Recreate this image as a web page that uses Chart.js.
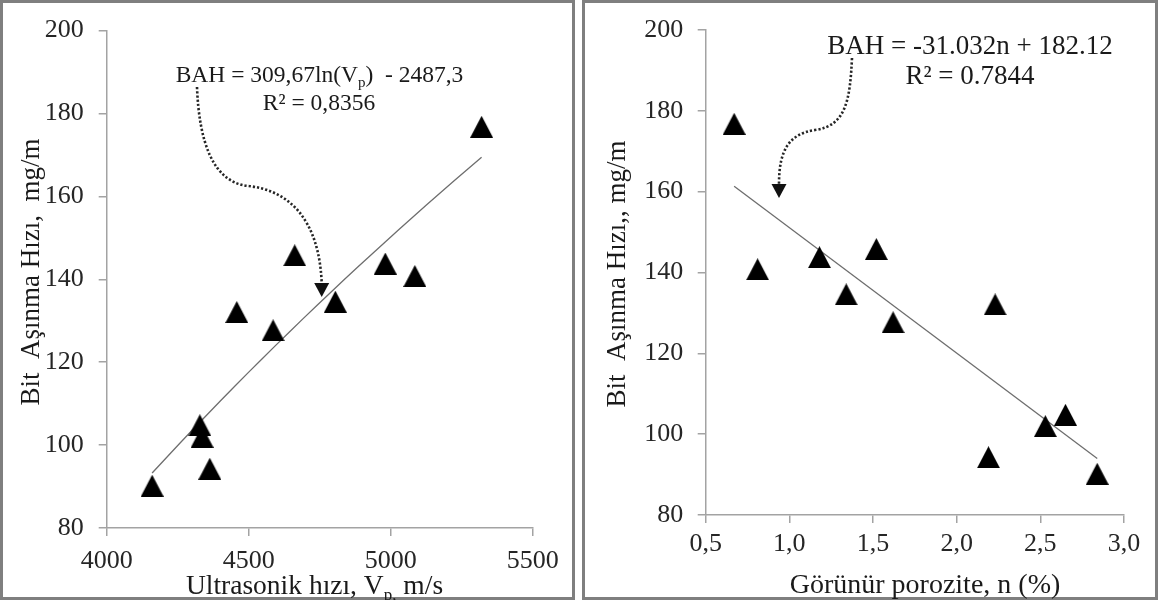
<!DOCTYPE html>
<html>
<head>
<meta charset="utf-8">
<script src="https://cdn.jsdelivr.net/npm/chart.js@4.4.1/dist/chart.umd.min.js"></script>
<style>
  html, body { margin: 0; padding: 0; background: #fff; width: 1159px; height: 612px; overflow: hidden; }
  .frame { position: absolute; top: 0; height: 600px; box-sizing: border-box; border: 3px solid #7f7f7f; background: #fff; }
  #f1 { left: 0; width: 575px; }
  #f2 { left: 582px; width: 576px; }
  canvas { position: absolute; top: 0; }
  #c1 { left: 0; }
  #c2 { left: 579px; }
</style>
</head>
<body>
<div class="frame" id="f1"></div>
<div class="frame" id="f2"></div>
<canvas id="c1" width="578" height="600"></canvas>
<canvas id="c2" width="580" height="600"></canvas>
<script>
// Bit wear rate (BAH, mg/m) measured on eleven samples
const bah = [90.2, 104.8, 102.0, 94.3, 132.1, 127.7, 145.8, 134.6, 143.8, 140.8, 176.8];
// Ultrasonic P-wave velocity of the same samples (m/s)
const vp = [4160, 4328, 4336, 4363, 4458, 4586, 4662, 4805, 4981, 5085, 5320];
// Apparent porosity of the same samples (%)
const porosity = [2.84, 2.65, 2.53, 2.19, 2.23, 1.62, 1.52, 1.34, 1.18, 0.81, 0.67];

// Axis ranges and tick labels
const vpTicks = [4000, 4500, 5000, 5500];
const porTicks = [0.5, 1.0, 1.5, 2.0, 2.5, 3.0];
const bahTicks = [80, 100, 120, 140, 160, 180, 200];

// Regression fits printed on the charts
const logFit = { a: 309.67, b: -2487.3, r2: '0,8356' };   // BAH = a ln(Vp) + b
const linFit = { m: -31.032, c: 182.12, r2: '0.7844' };   // BAH = m n + c

const SERIF = "'Liberation Serif', 'Times New Roman', serif";

// Solid black triangle marker (Excel style)
function triangleMarker(w, h) {
  const c = document.createElement('canvas');
  c.width = w; c.height = h;
  const g = c.getContext('2d');
  g.fillStyle = '#000';
  g.beginPath();
  g.moveTo(w / 2, 0);
  g.lineTo(w, h);
  g.lineTo(0, h);
  g.closePath();
  g.fill();
  return c;
}
const tri = triangleMarker(23, 22);

// Draw a run of text pieces (normal + subscript) centred on cx
function drawRuns(ctx, runs, cx, baseline, color) {
  ctx.save();
  ctx.fillStyle = color || '#1a1a1a';
  ctx.textBaseline = 'alphabetic';
  ctx.textAlign = 'left';
  let total = 0;
  runs.forEach(r => { ctx.font = r.size + 'px ' + SERIF; r.w = ctx.measureText(r.t).width; total += r.w; });
  let x = cx - total / 2;
  runs.forEach(r => {
    ctx.font = r.size + 'px ' + SERIF;
    ctx.fillText(r.t, x, baseline + (r.dy || 0));
    x += r.w;
  });
  ctx.restore();
}

function drawVertical(ctx, text, size, bx, cy) {
  ctx.save();
  ctx.translate(bx, cy);
  ctx.rotate(-Math.PI / 2);
  ctx.font = size + 'px ' + SERIF;
  ctx.fillStyle = '#1a1a1a';
  ctx.textAlign = 'center';
  ctx.textBaseline = 'alphabetic';
  ctx.fillText(text, 0, 0);
  ctx.restore();
}

// Dotted curved callout arrow
function drawCallout(ctx, segs, tip) {
  ctx.save();
  ctx.strokeStyle = '#262626';
  ctx.lineWidth = 2.6;
  ctx.setLineDash([2.2, 2]);
  ctx.beginPath();
  ctx.moveTo(segs[0][0], segs[0][1]);
  for (let i = 1; i < segs.length; i++) {
    const s = segs[i];
    ctx.bezierCurveTo(s[0], s[1], s[2], s[3], s[4], s[5]);
  }
  ctx.stroke();
  ctx.setLineDash([]);
  ctx.fillStyle = '#111';
  ctx.beginPath();
  ctx.moveTo(tip[0], tip[1]);
  ctx.lineTo(tip[0] - 7.5, tip[1] - 14);
  ctx.lineTo(tip[0] + 7.5, tip[1] - 14);
  ctx.closePath();
  ctx.fill();
  ctx.restore();
}

function axisCommon(min, max, step, tickVals, fmt, tickPad) {
  return {
    type: 'linear', min, max,
    afterBuildTicks: s => { s.ticks = tickVals.map(v => ({ value: v })); },
    ticks: { stepSize: step, color: '#262626', padding: tickPad, font: { family: SERIF, size: 26 }, callback: fmt },
    grid: { drawOnChartArea: false, drawTicks: true, tickLength: 8, color: '#a3a3a3', lineWidth: 1.5 },
    border: { display: true, color: '#a3a3a3', width: 1.5 }
  };
}

function makeChart(id, cfg) {
  const points = cfg.xs.map((x, i) => ({ x, y: bah[i] }));
  const annot = {
    id: 'annot' + id,
    afterDraw(chart) {
      cfg.decorate(chart.ctx);
    }
  };
  const xScale = axisCommon(cfg.xMin, cfg.xMax, cfg.xStep, cfg.xTicks, cfg.xFmt, cfg.xPad);
  xScale.afterFit = s => { s.height = cfg.xAxisH; };
  const yScale = axisCommon(80, 200, 20, bahTicks, v => String(v), cfg.yPad);
  yScale.afterFit = s => { s.width = cfg.yAxisW; };
  return new Chart(document.getElementById(id), {
    type: 'scatter',
    data: {
      datasets: [
        { label: 'BAH', data: points, pointStyle: tri, pointRadius: 11, pointHoverRadius: 11, order: 0 },
        { label: 'fit', data: cfg.fit, showLine: true, pointRadius: 0, borderColor: '#6e6e6e', borderWidth: 1.3, tension: 0, order: 1 }
      ]
    },
    options: {
      responsive: false, animation: false, devicePixelRatio: 1,
      layout: { padding: { top: cfg.padTop, right: cfg.padRight, left: 0, bottom: 0 } },
      plugins: { legend: { display: false }, tooltip: { enabled: false } },
      scales: { x: xScale, y: yScale }
    },
    plugins: [annot]
  });
}

// Logarithmic fit sampled across the Vp range
const logCurve = [];
for (let i = 0; i <= 24; i++) {
  const v = vp[0] + (vp[vp.length - 1] - vp[0]) * i / 24;
  logCurve.push({ x: v, y: logFit.a * Math.log(v) + logFit.b });
}
const nMin = Math.min(...porosity), nMax = Math.max(...porosity);
const linLine = [nMin, nMax].map(n => ({ x: n, y: linFit.m * n + linFit.c }));

const comma = v => v.toFixed(1).replace('.', ',');

makeChart('c1', {
  xs: vp, xMin: 4000, xMax: 5500, xStep: 500, xTicks: vpTicks, xFmt: v => String(v),
  fit: logCurve, xAxisH: 72, yAxisW: 106.7, padTop: 22.7, padRight: 45.3, xPad: 10, yPad: 15,
  decorate(ctx) {
    drawRuns(ctx, [
      { t: 'BAH = 309,67ln(V', size: 23.5 },
      { t: 'p', size: 15, dy: 5 },
      { t: ')  - 2487,3', size: 23.5 }
    ], 319.5, 81.7);
    drawRuns(ctx, [{ t: 'R² = ' + logFit.r2, size: 23.5 }], 319, 110);
    drawCallout(ctx, [[197, 87], [199, 140, 212, 182, 248, 186], [288, 190, 319, 218, 321.7, 283]], [321.7, 297]);
    drawRuns(ctx, [
      { t: 'Ultrasonik hızı, V', size: 27.5 },
      { t: 'p,', size: 17, dy: 6 },
      { t: ' m/s', size: 27.5 }
    ], 314.5, 594);
    drawVertical(ctx, 'Bit  Aşınma Hızı,  mg/m', 27, 39, 272);
  }
});

makeChart('c2', {
  xs: porosity, xMin: 0.5, xMax: 3.0, xStep: 0.5, xTicks: porTicks, xFmt: comma,
  fit: linLine, xAxisH: 85, yAxisW: 126.7, padTop: 14, padRight: 35, xPad: 6, yPad: 14.4,
  decorate(ctx) {
    const ox = 579;
    drawRuns(ctx, [{ t: 'BAH = -31.032n + 182.12', size: 27 }], 970 - ox, 54.3);
    drawRuns(ctx, [{ t: 'R² = ' + linFit.r2, size: 27 }], 970 - ox, 84.3);
    drawCallout(ctx, [[852 - ox, 58], [850 - ox, 100, 846 - ox, 126, 815 - ox, 130], [789 - ox, 134, 779 - ox, 150, 779 - ox, 184]], [779 - ox, 198]);
    drawRuns(ctx, [{ t: 'Görünür porozite, n (%)', size: 28 }], 925 - ox, 592.7);
    drawVertical(ctx, 'Bit  Aşınma Hızı,, mg/m', 27, 625 - ox, 274);
  }
});
</script>
</body>
</html>
